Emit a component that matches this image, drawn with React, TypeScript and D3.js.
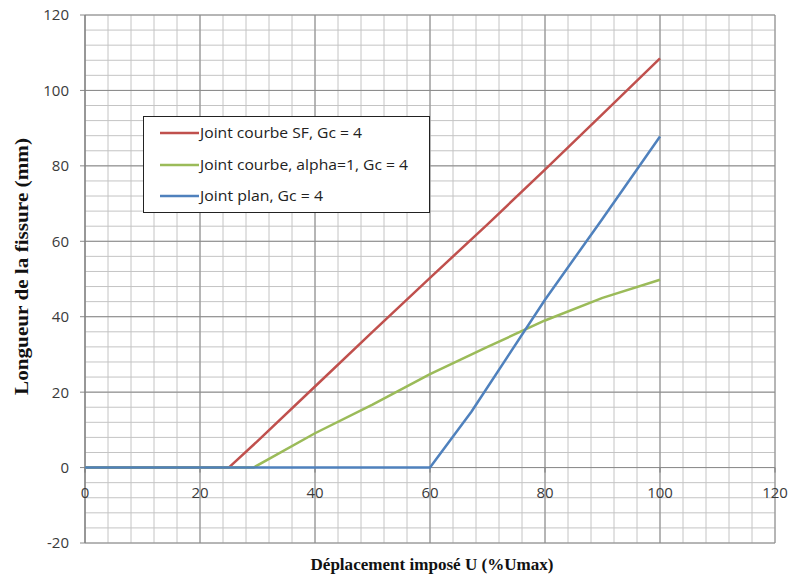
import React from "react";
import * as d3 from "d3";

const redX = [0, 25, 30, 40, 50, 60, 70, 80, 90, 100];
const redY = [0, 0, 7, 21.5, 36, 50.3, 64.5, 79, 93.7, 108.5];
const greenX = [0, 29.3, 40, 50, 60, 70, 80, 90, 100];
const greenY = [0, 0, 9.1, 16.7, 24.8, 32, 39, 45, 49.8];
const blueX = [0, 60, 67.2, 80, 90, 100];
const blueY = [0, 0, 14.8, 44.5, 66, 87.8];
const seriesNames = ["Joint courbe SF, Gc = 4", "Joint courbe, alpha=1, Gc = 4", "Joint plan, Gc = 4"];
const seriesColors = ["#C0504D", "#9BBB59", "#4F81BD"];
const xTicks = [0, 20, 40, 60, 80, 100, 120];
const yTicks = [-20, 0, 20, 40, 60, 80, 100, 120];
const xTitle = "Déplacement imposé U (%Umax)";
const yTitle = "Longueur de la fissure (mm)";

export default function App() {
  const W = 790, H = 582;
  const x = d3.scaleLinear().domain([0, 120]).range([85, 775]);
  const y = d3.scaleLinear().domain([-20, 120]).range([543, 15]);
  const minorX = d3.range(0, 121, 4);
  const minorY = d3.range(-20, 121, 4);
  const line = d3.line<[number, number]>().x(d => x(d[0])).y(d => y(d[1]));
  const series = [
    redX.map((v, i) => [v, redY[i]] as [number, number]),
    greenX.map((v, i) => [v, greenY[i]] as [number, number]),
    blueX.map((v, i) => [v, blueY[i]] as [number, number]),
  ];
  const labelFont = "'Open Sans', 'Liberation Sans', sans-serif";
  const serif = "'Liberation Serif', 'Times New Roman', serif";
  const legendY = [133, 165, 196];
  const legendLen = [162, 208, 123];
  return (
    <svg width={W} height={H} style={{ position: "absolute", left: 0, top: 0, background: "#fff" }}>
      <rect x={0} y={0} width={W} height={H} fill="#fff" />
      {minorX.map(v => (
        <line key={"mx" + v} x1={x(v)} x2={x(v)} y1={y(120)} y2={y(-20)} stroke="#c4c4c4" strokeWidth={1} />
      ))}
      {minorY.map(v => (
        <line key={"my" + v} x1={x(0)} x2={x(120)} y1={y(v)} y2={y(v)} stroke="#c4c4c4" strokeWidth={1} />
      ))}
      {xTicks.map(v => (
        <line key={"Mx" + v} x1={x(v)} x2={x(v)} y1={y(120)} y2={y(-20)} stroke="#8a8a8a" strokeWidth={1} />
      ))}
      {yTicks.map(v => (
        <line key={"My" + v} x1={x(0) - 5} x2={x(120)} y1={y(v)} y2={y(v)} stroke="#8a8a8a" strokeWidth={1} />
      ))}
      <line x1={x(0)} x2={x(0)} y1={y(120)} y2={y(-20)} stroke="#7a7a7a" strokeWidth={1} />
      {xTicks.map(v => (
        <line key={"tx" + v} x1={x(v)} x2={x(v)} y1={y(0)} y2={y(0) + 5} stroke="#7a7a7a" strokeWidth={1} />
      ))}
      {yTicks.map(v => (
        <text key={"ly" + v} x={69} y={y(v)} dy="0.36em" textAnchor="end" fontFamily={labelFont} fontSize={15} fill="#3a3a3a">
          {v}
        </text>
      ))}
      {xTicks.map(v => (
        <text key={"lx" + v} x={x(v)} y={y(0) + 30} textAnchor="middle" fontFamily={labelFont} fontSize={15} fill="#3a3a3a">
          {v}
        </text>
      ))}
      {series.map((s, i) => (
        <path key={"s" + i} d={line(s) || ""} fill="none" stroke={seriesColors[i]} strokeWidth={2.5} strokeLinejoin="round" />
      ))}
      <g>
        <rect x={143.5} y={116.5} width={286} height={96} fill="#fff" stroke="#222" strokeWidth={1} />
        {seriesNames.map((n, i) => (
          <g key={"lg" + i}>
            <line x1={160} x2={199} y1={legendY[i]} y2={legendY[i]} stroke={seriesColors[i]} strokeWidth={2.5} />
            <text x={200} y={legendY[i]} dy="0.36em" fontFamily={labelFont} fontSize={15} fill="#222"
              textLength={legendLen[i]} lengthAdjust="spacingAndGlyphs">
              {n}
            </text>
          </g>
        ))}
      </g>
      <text x={432} y={570} textAnchor="middle" fontFamily={serif} fontWeight="bold" fontSize={17.5} fill="#111"
        textLength={243} lengthAdjust="spacingAndGlyphs">
        {xTitle}
      </text>
      <text transform={`translate(28, 266.5) rotate(-90)`} textAnchor="middle" fontFamily={serif} fontWeight="bold" fontSize={19} fill="#111"
        textLength={257} lengthAdjust="spacingAndGlyphs">
        {yTitle}
      </text>
    </svg>
  );
}
